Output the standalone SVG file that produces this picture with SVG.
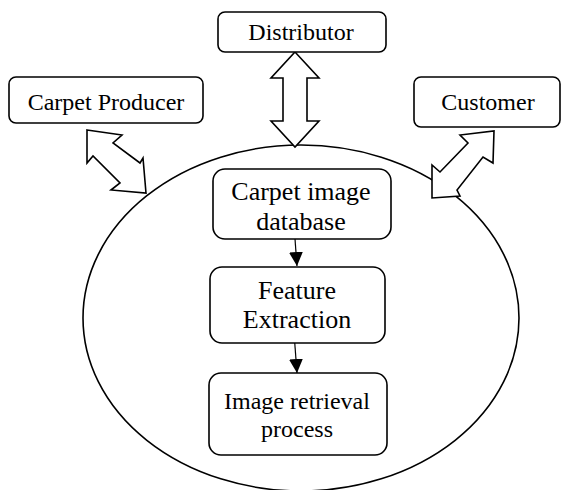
<svg xmlns="http://www.w3.org/2000/svg" width="562" height="490" viewBox="0 0 562 490">
<defs>
<style>
.box{fill:#fff;stroke:#000;stroke-width:1.6}
.blk{fill:#fff;stroke:#000;stroke-width:1.6;stroke-linejoin:miter}
.t{font-family:"Liberation Serif","Times New Roman",serif;fill:#000;text-anchor:middle}
.s24{font-size:24px}
.s26{font-size:26px}
.ln{stroke:#000;stroke-width:1.2;fill:none}
</style>
<marker id="ah" viewBox="0 0 14 14" markerWidth="14" markerHeight="14" refX="14" refY="7" orient="auto" markerUnits="userSpaceOnUse">
<path d="M0,0 L14,7 L0,14 Z" fill="#000"/>
</marker>
</defs>
<rect width="562" height="490" fill="#fff"/>
<g id="system">
<ellipse cx="301" cy="318" rx="218" ry="173" fill="none" stroke="#000" stroke-width="1.6"/>
</g>
<g id="connectors">
<path class="blk" d="M295,52 L319,78 L307,78 L307,121 L319,121 L295,147 L271,121 L283,121 L283,78 L271,78 Z"/>
<path class="blk" d="M87,130 L122,135 L113,143 L140,163 L143,158 L146,193 L111,190 L120,183 L93,156 L87,163 Z"/>
<path class="blk" d="M494,131 L493,163 L483,157 L457,190 L460,196 L432,198 L432,165 L440,172 L468,143 L460,135 Z"/>
<line class="ln" x1="295" y1="239" x2="297" y2="266" marker-end="url(#ah)"/>
<line class="ln" x1="294" y1="333" x2="297" y2="373" marker-end="url(#ah)"/>
</g>
<g id="distributor">
<rect class="box" x="218" y="12" width="168" height="40" rx="7"/>
<text class="t s24" x="301" y="40">Distributor</text>
</g>
<g id="carpet-producer">
<rect class="box" x="9" y="77" width="194" height="46" rx="7"/>
<text class="t s24" x="106" y="110">Carpet Producer</text>
</g>
<g id="customer">
<rect class="box" x="414" y="77" width="146" height="50" rx="7"/>
<text class="t s24" x="488" y="110">Customer</text>
</g>
<g id="carpet-image-database">
<rect class="box" x="213" y="169" width="178" height="70" rx="12"/>
<text class="t s26" x="301" y="200">Carpet image</text>
<text class="t s26" x="301" y="230">database</text>
</g>
<g id="feature-extraction">
<rect class="box" x="210" y="267" width="175" height="76" rx="12"/>
<text class="t s26" x="297" y="299">Feature</text>
<text class="t s26" x="297" y="328">Extraction</text>
</g>
<g id="image-retrieval-process">
<rect class="box" x="209" y="373" width="178" height="82" rx="12"/>
<text class="t s24" x="297" y="409">Image retrieval</text>
<text class="t s24" x="297" y="437">process</text>
</g>
</svg>
